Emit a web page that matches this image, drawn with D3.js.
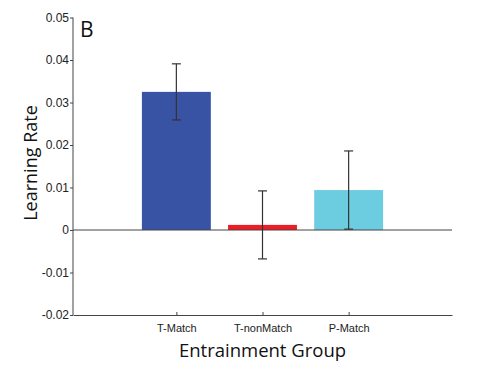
<!DOCTYPE html>
<html>
<head>
    <meta charset="utf-8">
    <title>Learning Rate by Entrainment Group</title>
    <script src="https://d3js.org/d3.v7.min.js"></script>
    <style>
        body { margin: 0; background: #fff; }
        .tick text { font-family: "Liberation Sans", Arial, sans-serif; }
    </style>
</head>
<body>
    <svg width="499" height="370"></svg>
    <script>
        // data
        var groups = ["T-Match", "T-nonMatch", "P-Match"];
        var rates = [0.0325, 0.0012, 0.0094];
        var errors = [0.0066, 0.0080, 0.0092];
        var colors = ["#3953a4", "#ee1c25", "#6dcde0"];
        var yTicks = [-0.02, -0.01, 0, 0.01, 0.02, 0.03, 0.04, 0.05];

        var svg = d3.select("svg");
        var plotL = 73, plotR = 452, plotT = 17.5, plotB = 315;

        // bars sit at positions 1..3 like the original axes
        var x = d3.scaleLinear().domain([-0.2, 4.2]).range([plotL, plotR]);
        var y = d3.scaleLinear().domain([-0.02, 0.05]).range([plotB, plotT]);
        var barW = x(0.8) - x(0);

        // bars
        svg.selectAll("rect.bar")
            .data(rates)
            .enter()
            .append("rect")
            .attr("class", "bar")
            .attr("x", function(d, i) { return x(i + 1) - barW / 2; })
            .attr("width", barW)
            .attr("y", function(d) { return y(Math.max(0, d)); })
            .attr("height", function(d) { return Math.abs(y(d) - y(0)); })
            .attr("fill", function(d, i) { return colors[i]; });

        // zero line
        svg.append("line")
            .attr("x1", plotL).attr("x2", plotR)
            .attr("y1", y(0)).attr("y2", y(0))
            .attr("stroke", "#444").attr("stroke-width", 1);

        // error bars
        var eb = svg.selectAll("g.err")
            .data(rates)
            .enter()
            .append("g")
            .attr("class", "err")
            .attr("stroke", "#333")
            .attr("stroke-width", 1.2);
        eb.append("line")
            .attr("x1", function(d, i) { return x(i + 1); })
            .attr("x2", function(d, i) { return x(i + 1); })
            .attr("y1", function(d, i) { return y(d + errors[i]); })
            .attr("y2", function(d, i) { return y(d - errors[i]); });
        [1, -1].forEach(function(s) {
            eb.append("line")
                .attr("x1", function(d, i) { return x(i + 1) - 4.5; })
                .attr("x2", function(d, i) { return x(i + 1) + 4.5; })
                .attr("y1", function(d, i) { return y(d + s * errors[i]); })
                .attr("y2", function(d, i) { return y(d + s * errors[i]); });
        });

        // y axis (plain hyphen for negatives, as in the original)
        var yAxis = d3.axisLeft(y)
            .tickValues(yTicks)
            .tickSize(3)
            .tickPadding(1)
            .tickFormat(function(d) { return d === 0 ? "0" : d.toFixed(2); });
        var gy = svg.append("g")
            .attr("transform", "translate(" + plotL + ",0)")
            .call(yAxis);
        gy.select(".domain").attr("d", "M0," + plotT + "V" + plotB).attr("stroke", "#444");
        gy.selectAll(".tick line").attr("stroke", "#444");
        gy.selectAll(".tick text").attr("font-size", 12).attr("fill", "#222");

        // x axis
        var xAxis = d3.axisBottom(x)
            .tickValues([1, 2, 3])
            .tickSizeInner(-3)
            .tickSizeOuter(0)
            .tickPadding(9)
            .tickFormat(function(d) { return groups[d - 1]; });
        var gx = svg.append("g")
            .attr("transform", "translate(0," + plotB + ")")
            .call(xAxis);
        gx.select(".domain").attr("stroke", "#444");
        gx.selectAll(".tick line").attr("stroke", "#444");
        gx.selectAll(".tick text").attr("font-size", 11).attr("fill", "#222")
            .attr("font-family", "'Open Sans', sans-serif");

        // labels
        svg.append("text")
            .attr("x", (plotL + plotR) / 2)
            .attr("y", 357)
            .attr("text-anchor", "middle")
            .attr("font-family", "'Open Sans', sans-serif")
            .attr("font-size", 18.5)
            .attr("fill", "#111")
            .text("Entrainment Group");

        svg.append("text")
            .attr("transform", "translate(37,163) rotate(-90)")
            .attr("text-anchor", "middle")
            .attr("font-family", "'Open Sans', sans-serif")
            .attr("font-size", 18)
            .attr("fill", "#111")
            .text("Learning Rate");

        svg.append("text")
            .attr("x", 80)
            .attr("y", 37)
            .attr("font-family", "'Open Sans', sans-serif")
            .attr("font-size", 21)
            .attr("fill", "#111")
            .text("B");
    </script>
</body>
</html>
